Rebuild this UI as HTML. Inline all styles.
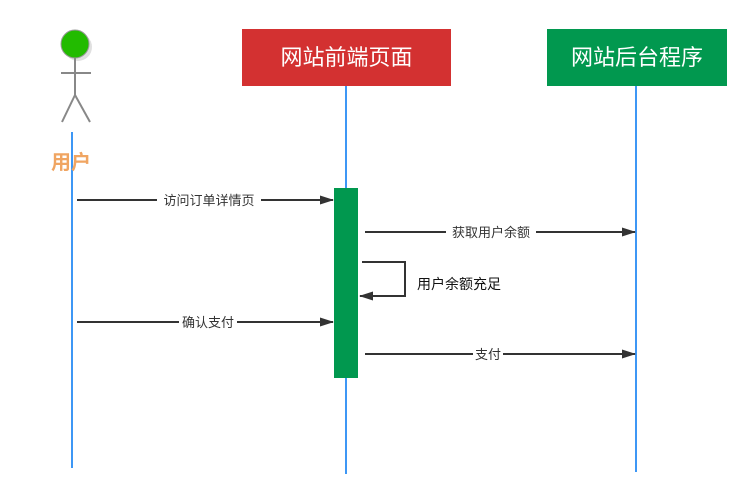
<!DOCTYPE html>
<html><head><meta charset="utf-8"><style>
html,body{margin:0;padding:0;background:#fff;width:741px;height:479px;overflow:hidden}
svg{display:block}
text{font-family:"Liberation Sans","Noto Sans CJK SC",sans-serif}
</style></head><body>
<svg width="741" height="479" viewBox="0 0 741 479" xmlns="http://www.w3.org/2000/svg">
<defs>
<marker id="a" markerWidth="14" markerHeight="10" refX="13" refY="5" orient="auto" markerUnits="userSpaceOnUse">
<path d="M0,0.5 L14,5 L0,9.5 Z" fill="#333"/></marker>
</defs>
<line x1="72" y1="132" x2="72" y2="468" stroke="#3d97f5" stroke-width="2"/>
<line x1="346" y1="86" x2="346" y2="474" stroke="#3d97f5" stroke-width="2"/>
<line x1="636" y1="86" x2="636" y2="472" stroke="#3d97f5" stroke-width="2"/>
<rect x="242" y="29" width="209" height="57" fill="#d33131"/>
<text x="346.5" y="65" font-size="22" fill="#fff" text-anchor="middle">网站前端页面</text>
<rect x="547" y="29" width="180" height="57" fill="#01984f"/>
<text x="637" y="65" font-size="22" fill="#fff" text-anchor="middle">网站后台程序</text>
<circle cx="78" cy="47" r="14" fill="#ccc" opacity="0.6"/>
<circle cx="75" cy="44" r="14" fill="#22bb00" stroke="#999" stroke-width="1"/>
<g stroke="#888" stroke-width="2" fill="none">
<line x1="75" y1="58" x2="75" y2="95"/>
<line x1="61" y1="73" x2="91" y2="73"/>
<line x1="75" y1="95" x2="62" y2="122"/>
<line x1="75" y1="95" x2="90" y2="122"/>
</g>
<text x="71" y="169" font-size="20" font-weight="bold" fill="#f0a562" text-anchor="middle">用户</text>
<rect x="334" y="188" width="24" height="190" fill="#01984f"/>
<g stroke="#333" stroke-width="2" fill="none">
<line x1="77" y1="200" x2="333" y2="200" marker-end="url(#a)"/>
<line x1="365" y1="232" x2="635" y2="232" marker-end="url(#a)"/>
<polyline points="362,262 405,262 405,296 360,296" marker-end="url(#a)"/>
<line x1="77" y1="322" x2="333" y2="322" marker-end="url(#a)"/>
<line x1="365" y1="354" x2="635" y2="354" marker-end="url(#a)"/>
</g>
<g font-size="13" fill="#333" text-anchor="middle">
<rect x="157" y="192" width="104" height="16" fill="#fff"/>
<text x="209" y="205">访问订单详情页</text>
<rect x="446" y="224" width="90" height="16" fill="#fff"/>
<text x="491" y="237">获取用户余额</text>
<rect x="179" y="314" width="58" height="16" fill="#fff"/>
<text x="208" y="327">确认支付</text>
<rect x="473" y="346" width="30" height="16" fill="#fff"/>
<text x="488" y="359">支付</text>
</g>
<text x="417" y="289" font-size="14" fill="#111">用户余额充足</text>
</svg>
</body></html>
